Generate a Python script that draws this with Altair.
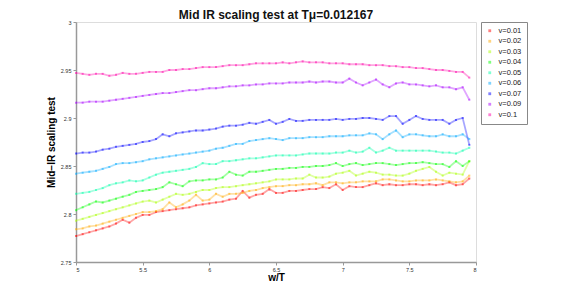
import altair as alt
import pandas as pd

# x grid (w/T)
w_T = [5.00, 5.05, 5.10, 5.15, 5.20, 5.25, 5.30, 5.35, 5.40, 5.45,
       5.50, 5.55, 5.60, 5.65, 5.70, 5.75, 5.80, 5.85, 5.90, 5.95,
       6.00, 6.05, 6.10, 6.15, 6.20, 6.25, 6.30, 6.35, 6.40, 6.45,
       6.50, 6.55, 6.60, 6.65, 6.70, 6.75, 6.80, 6.85, 6.90, 6.95,
       7.00, 7.05, 7.10, 7.15, 7.20, 7.25, 7.30, 7.35, 7.40, 7.45,
       7.50, 7.55, 7.60, 7.65, 7.70, 7.75, 7.80, 7.85, 7.90, 7.95]

v_001 = [2.777, 2.779, 2.781, 2.783, 2.785, 2.787, 2.790, 2.794, 2.791, 2.796,
         2.799, 2.799, 2.802, 2.803, 2.804, 2.805, 2.806, 2.807, 2.809, 2.810,
         2.811, 2.812, 2.813, 2.815, 2.816, 2.824, 2.817, 2.820, 2.821, 2.826,
         2.822, 2.822, 2.824, 2.824, 2.825, 2.826, 2.826, 2.828, 2.827, 2.831,
         2.825, 2.829, 2.828, 2.828, 2.830, 2.832, 2.830, 2.831, 2.830, 2.830,
         2.831, 2.831, 2.830, 2.831, 2.830, 2.831, 2.833, 2.830, 2.831, 2.837]

v_002 = [2.784, 2.785, 2.787, 2.788, 2.790, 2.792, 2.794, 2.796, 2.798, 2.800,
         2.802, 2.802, 2.803, 2.805, 2.812, 2.807, 2.810, 2.814, 2.820, 2.814,
         2.815, 2.821, 2.818, 2.821, 2.821, 2.822, 2.824, 2.825, 2.827, 2.828,
         2.829, 2.829, 2.830, 2.830, 2.831, 2.831, 2.832, 2.830, 2.833, 2.833,
         2.832, 2.833, 2.833, 2.834, 2.834, 2.834, 2.836, 2.836, 2.835, 2.834,
         2.834, 2.835, 2.835, 2.835, 2.836, 2.835, 2.834, 2.833, 2.834, 2.840]

v_003 = [2.793, 2.795, 2.797, 2.799, 2.801, 2.803, 2.805, 2.807, 2.809, 2.811,
         2.813, 2.814, 2.812, 2.815, 2.818, 2.821, 2.820, 2.821, 2.823, 2.825,
         2.825, 2.827, 2.828, 2.828, 2.829, 2.830, 2.831, 2.832, 2.833, 2.834,
         2.836, 2.836, 2.836, 2.837, 2.837, 2.841, 2.838, 2.838, 2.839, 2.842,
         2.843, 2.845, 2.840, 2.842, 2.844, 2.843, 2.841, 2.841, 2.840, 2.840,
         2.842, 2.845, 2.847, 2.849, 2.844, 2.840, 2.843, 2.842, 2.841, 2.855]

v_004 = [2.804, 2.807, 2.810, 2.813, 2.812, 2.814, 2.816, 2.818, 2.820, 2.823,
         2.824, 2.825, 2.826, 2.828, 2.833, 2.831, 2.829, 2.834, 2.835, 2.835,
         2.836, 2.836, 2.838, 2.844, 2.841, 2.840, 2.844, 2.844, 2.845, 2.846,
         2.847, 2.847, 2.848, 2.848, 2.849, 2.849, 2.850, 2.850, 2.851, 2.853,
         2.850, 2.852, 2.853, 2.851, 2.852, 2.853, 2.853, 2.852, 2.851, 2.852,
         2.853, 2.853, 2.854, 2.853, 2.852, 2.852, 2.849, 2.855, 2.850, 2.855]

v_005 = [2.821, 2.822, 2.823, 2.825, 2.827, 2.830, 2.832, 2.833, 2.835, 2.834,
         2.835, 2.838, 2.841, 2.843, 2.844, 2.845, 2.846, 2.847, 2.849, 2.853,
         2.852, 2.852, 2.855, 2.855, 2.856, 2.857, 2.858, 2.858, 2.859, 2.860,
         2.861, 2.861, 2.861, 2.861, 2.862, 2.863, 2.863, 2.863, 2.863, 2.864,
         2.864, 2.866, 2.864, 2.865, 2.869, 2.864, 2.866, 2.869, 2.866, 2.866,
         2.866, 2.866, 2.866, 2.866, 2.865, 2.864, 2.864, 2.863, 2.866, 2.869]

v_006 = [2.842, 2.843, 2.844, 2.845, 2.847, 2.849, 2.852, 2.853, 2.853, 2.854,
         2.855, 2.857, 2.858, 2.859, 2.860, 2.861, 2.862, 2.863, 2.864, 2.865,
         2.866, 2.868, 2.869, 2.871, 2.873, 2.873, 2.876, 2.877, 2.878, 2.879,
         2.878, 2.877, 2.879, 2.879, 2.879, 2.880, 2.880, 2.880, 2.881, 2.881,
         2.881, 2.882, 2.882, 2.882, 2.884, 2.883, 2.878, 2.883, 2.887, 2.880,
         2.883, 2.883, 2.882, 2.881, 2.881, 2.883, 2.881, 2.881, 2.883, 2.878]

v_007 = [2.863, 2.864, 2.864, 2.865, 2.867, 2.868, 2.870, 2.871, 2.872, 2.873,
         2.875, 2.876, 2.878, 2.883, 2.881, 2.884, 2.885, 2.886, 2.887, 2.887,
         2.888, 2.889, 2.891, 2.892, 2.892, 2.893, 2.895, 2.894, 2.896, 2.898,
         2.894, 2.896, 2.899, 2.897, 2.897, 2.898, 2.898, 2.898, 2.898, 2.899,
         2.898, 2.899, 2.899, 2.900, 2.900, 2.899, 2.898, 2.902, 2.902, 2.894,
         2.898, 2.902, 2.899, 2.898, 2.898, 2.898, 2.894, 2.898, 2.900, 2.872]

v_009 = [2.916, 2.916, 2.917, 2.917, 2.917, 2.918, 2.919, 2.920, 2.921, 2.922,
         2.923, 2.924, 2.925, 2.926, 2.926, 2.927, 2.928, 2.929, 2.929, 2.930,
         2.931, 2.931, 2.932, 2.933, 2.933, 2.934, 2.934, 2.935, 2.935, 2.936,
         2.936, 2.936, 2.937, 2.937, 2.937, 2.938, 2.937, 2.938, 2.938, 2.937,
         2.937, 2.941, 2.937, 2.934, 2.937, 2.940, 2.935, 2.932, 2.936, 2.937,
         2.935, 2.935, 2.934, 2.933, 2.934, 2.932, 2.932, 2.930, 2.932, 2.919]

v_010 = [2.947, 2.946, 2.945, 2.946, 2.946, 2.944, 2.945, 2.947, 2.946, 2.946,
         2.947, 2.948, 2.948, 2.948, 2.950, 2.950, 2.951, 2.951, 2.952, 2.953,
         2.953, 2.953, 2.954, 2.955, 2.955, 2.955, 2.956, 2.957, 2.957, 2.957,
         2.957, 2.958, 2.957, 2.958, 2.959, 2.958, 2.958, 2.958, 2.957, 2.957,
         2.957, 2.956, 2.956, 2.956, 2.955, 2.955, 2.955, 2.954, 2.954, 2.953,
         2.953, 2.952, 2.952, 2.951, 2.950, 2.950, 2.949, 2.948, 2.948, 2.942]

series_names = ["v=0.01", "v=0.02", "v=0.03", "v=0.04", "v=0.05",
                "v=0.06", "v=0.07", "v=0.09", "v=0.1"]
series_values = [v_001, v_002, v_003, v_004, v_005, v_006, v_007, v_009, v_010]
series_colors = ["#ff0000", "#ffaa00", "#aaff00", "#00ff00", "#00ffaa",
                 "#00aaff", "#0000ff", "#aa00ff", "#ff00aa"]

x_ticks = [5, 5.5, 6, 6.5, 7, 7.5, 8]
y_ticks = [2.75, 2.8, 2.85, 2.9, 2.95, 3]

rows = []
for name, vals in zip(series_names, series_values):
    for xv, yv in zip(w_T, vals):
        rows.append({"series": name, "w_T": xv, "value": yv})
df = pd.DataFrame(rows)

FONT = "Liberation Sans"

color = alt.Color(
    "series:N",
    scale=alt.Scale(domain=series_names, range=series_colors),
    sort=series_names,
    legend=alt.Legend(
        title=None, orient="none", legendX=405, legendY=0,
        strokeColor="#888888", fillColor="white",
        padding=5, labelFontSize=7.5, labelFont=FONT, labelColor="#222",
        symbolType="square", symbolSize=8, symbolOpacity=0.5,
        symbolStrokeWidth=0, rowPadding=1.5, labelOffset=5,
    ),
)

x = alt.X("w_T:Q", title="w/T",
          scale=alt.Scale(domain=[5, 8], nice=False, zero=False),
          axis=alt.Axis(values=x_ticks, format="~g", grid=False,
                        titleFontSize=10, titleFont=FONT, titleFontWeight="bold",
                        titlePadding=0, labelFontSize=5.5, labelFont=FONT,
                        labelColor="#333", tickSize=3, tickColor="#999",
                        domainColor="#999", domainWidth=1.5,
                        labelPadding=2))
y = alt.Y("value:Q", title="Mid\u2212IR scaling test",
          scale=alt.Scale(domain=[2.75, 3], nice=False, zero=False),
          axis=alt.Axis(values=y_ticks, format="~g", grid=False,
                        titleFontSize=10, titleFont=FONT, titleFontWeight="bold",
                        titlePadding=4, labelFontSize=5.5, labelFont=FONT,
                        labelColor="#333", tickSize=3, tickColor="#999",
                        domainColor="#999", domainWidth=1.5, labelPadding=2))

base = alt.Chart(df).encode(x=x, y=y, color=color, detail="series:N")

lines = base.mark_line(strokeWidth=1.8, opacity=0.35)
points = base.mark_point(shape="square", filled=True, size=4, opacity=0.5)

chart = (
    alt.layer(lines, points)
    .properties(
        width=400, height=240,
        title=alt.TitleParams("Mid IR scaling test at T\u03bc=0.012167",
                              fontSize=12, font=FONT, fontWeight="bold",
                              color="#111", offset=-2, anchor="middle"),
        autosize=alt.AutoSizeParams(type="none"),
        padding={"left": 68, "top": 14, "right": 97, "bottom": 24},
    )
    .configure_view(stroke=None)
    .configure(background="white")
)

chart.save("out.html", embed_options={"renderer": "svg", "actions": False})
